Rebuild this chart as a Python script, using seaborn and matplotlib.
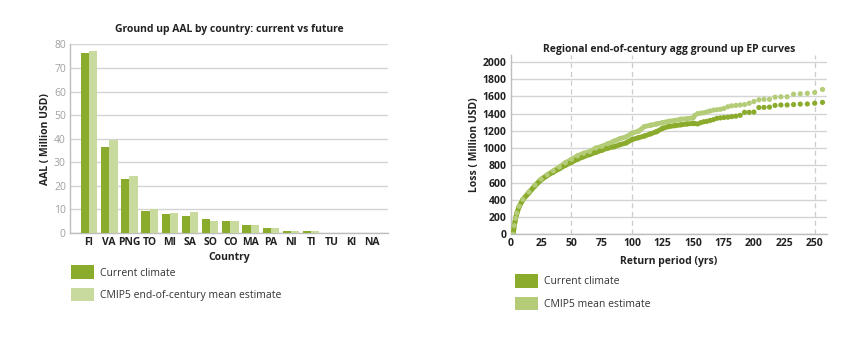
import matplotlib
matplotlib.use("Agg")
import matplotlib.pyplot as plt
from matplotlib.patches import Patch
import seaborn as sns
import pandas as pd

# ---- data: bar chart ----
countries = ["FI", "VA", "PNG", "TO", "MI", "SA", "SO", "CO", "MA", "PA", "NI", "TI", "TU", "KI", "NA"]
aal_current = [76.3, 36.5, 22.7, 9.5, 8.0, 7.1, 5.8, 5.0, 3.3, 2.2, 1.0, 1.0, 0.0, 0.0, 0.0]
aal_future = [77.0, 39.3, 24.0, 10.0, 8.4, 8.8, 5.3, 5.0, 3.2, 2.2, 0.9, 0.9, 0.0, 0.0, 0.0]
bar_series = ["Current climate", "CMIP5 end-of-century mean estimate"]

# ---- data: EP curves ----
rp_dense = [2, 3, 4, 5, 7, 10, 15, 20, 25, 30, 35, 40, 45, 50, 55, 60, 65, 70, 75, 80, 85,
            90, 95, 100, 105, 110, 115, 120, 125, 130, 135, 140, 145, 150]
loss_cur_dense = [0, 100, 180, 240, 320, 400, 480, 560, 630, 680, 720, 760, 800, 835, 870, 900,
                  925, 950, 975, 1000, 1015, 1040, 1060, 1100, 1120, 1140, 1165, 1190, 1230,
                  1250, 1260, 1270, 1280, 1285]
loss_fut_dense = [0, 100, 185, 245, 325, 405, 490, 570, 640, 690, 735, 780, 830, 870, 910, 940,
                  960, 1000, 1020, 1050, 1080, 1110, 1130, 1175, 1195, 1250, 1265, 1280, 1295,
                  1310, 1320, 1335, 1340, 1350]
rp_sparse = [151.5, 153.8, 156.3, 158.7, 161.3, 163.9, 166.7, 169.5, 172.4, 175.4, 178.6,
             181.8, 185.2, 188.7, 192.3, 196.1, 200.0, 204.1, 208.3, 212.8, 217.4, 222.2,
             227.3, 232.6, 238.1, 243.9, 250.0, 256.4]
loss_cur_sparse = [1285, 1280, 1295, 1305, 1310, 1320, 1330, 1345, 1350, 1355, 1358, 1365,
                   1370, 1380, 1415, 1415, 1418, 1470, 1472, 1475, 1495, 1500, 1500, 1505,
                   1510, 1512, 1520, 1530]
loss_fut_sparse = [1380, 1400, 1405, 1410, 1420, 1430, 1440, 1445, 1450, 1460, 1480, 1490,
                   1495, 1500, 1505, 1520, 1540, 1560, 1565, 1565, 1590, 1595, 1595, 1625,
                   1630, 1635, 1645, 1680]
ep_series = ["Current climate", "CMIP5 mean estimate"]
vlines = [50, 100, 250]

# ---- style ----
sns.set_theme(style="white")
plt.rcParams["font.family"] = ["Open Sans", "DejaVu Sans"]
dark = "#222222"
c_cur = "#8aab2b"
c_fut_bar = "#c8da9e"
c_fut_dot = "#b4cc78"

fig = plt.figure(figsize=(8.5, 3.43), dpi=100)
ax1 = fig.add_axes([0.0824, 0.3207, 0.374, 0.550])
ax2 = fig.add_axes([0.6008, 0.317, 0.372, 0.5227])

# ---- bar chart ----
df_bar = pd.DataFrame({
    "Country": countries * 2,
    "AAL": aal_current + aal_future,
    "Series": [bar_series[0]] * len(countries) + [bar_series[1]] * len(countries),
})
sns.barplot(data=df_bar, x="Country", y="AAL", hue="Series", hue_order=bar_series,
            palette=[c_cur, c_fut_bar], width=0.82, saturation=1, ax=ax1, legend=False,
            linewidth=0, edgecolor="none", zorder=3)
ax1.set_xlim(-0.94, 14.8)
ax1.set_ylim(0, 80)
ax1.set_yticks(range(0, 81, 10))
ax1.grid(axis="y", color="#d4d4d4", lw=1.0, zorder=0)
ax1.set_axisbelow(True)
for s in ["top", "right"]:
    ax1.spines[s].set_visible(False)
for s in ["left", "bottom"]:
    ax1.spines[s].set_color("#bdbdbd")
    ax1.spines[s].set_linewidth(1.0)
ax1.tick_params(axis="both", length=0, pad=3)
ax1.tick_params(axis="y", labelsize=7.5, labelcolor="#a0a0a0")
for lbl in ax1.get_xticklabels():
    lbl.set_fontsize(7.5)
    lbl.set_fontweight("bold")
    lbl.set_color(dark)
ax1.set_xlabel("Country", fontsize=7.5, fontweight="bold", color=dark, labelpad=3)
ax1.set_ylabel("AAL ( Million USD)", fontsize=7.5, fontweight="bold", color=dark, labelpad=2)
ax1.set_title("Ground up AAL by country: current vs future", fontsize=7.5,
              fontweight="bold", color=dark, pad=9)
h1 = [Patch(facecolor=c_cur, edgecolor="none"), Patch(facecolor=c_fut_bar, edgecolor="none")]
leg1 = ax1.legend(h1, bar_series, loc="upper left", bbox_to_anchor=(-0.01, -0.15),
                  frameon=False, fontsize=7.5, handlelength=2.2, handleheight=1.6,
                  labelspacing=0.85, handletextpad=0.6, borderaxespad=0)
for t in leg1.get_texts():
    t.set_color("#333333")

# ---- EP curves ----
df_dense = pd.DataFrame({
    "RP": rp_dense * 2,
    "Loss": loss_cur_dense + loss_fut_dense,
    "Series": [ep_series[0]] * len(rp_dense) + [ep_series[1]] * len(rp_dense),
})
df_all = pd.DataFrame({
    "RP": (rp_dense + rp_sparse) * 2,
    "Loss": loss_cur_dense + loss_cur_sparse + loss_fut_dense + loss_fut_sparse,
    "Series": [ep_series[0]] * (len(rp_dense) + len(rp_sparse))
              + [ep_series[1]] * (len(rp_dense) + len(rp_sparse)),
})
pal = {ep_series[0]: c_cur, ep_series[1]: c_fut_dot}
order = [ep_series[1], ep_series[0]]
sns.lineplot(data=df_dense, x="RP", y="Loss", hue="Series", hue_order=order, palette=pal,
             lw=3.5, ax=ax2, legend=False, zorder=3)
sns.scatterplot(data=df_all, x="RP", y="Loss", hue="Series", hue_order=order, palette=pal,
                s=14, linewidth=0, ax=ax2, legend=False, zorder=4)
for v in vlines:
    ax2.axvline(v, color="#cccccc", lw=0.9, ls=(0, (4, 3)), zorder=1)
ax2.set_xlim(0, 260)
ax2.set_ylim(0, 2080)
ax2.set_xticks(range(0, 251, 25))
ax2.set_yticks(range(0, 2001, 200))
ax2.grid(axis="y", color="#d4d4d4", lw=1.0, zorder=0)
ax2.set_axisbelow(True)
for s in ["top", "right"]:
    ax2.spines[s].set_visible(False)
for s in ["left", "bottom"]:
    ax2.spines[s].set_color("#bdbdbd")
    ax2.spines[s].set_linewidth(1.0)
ax2.tick_params(axis="both", length=0, pad=3, labelsize=7.5, labelcolor=dark)
for lbl in ax2.get_xticklabels() + ax2.get_yticklabels():
    lbl.set_fontweight("bold")
ax2.set_xlabel("Return period (yrs)", fontsize=7.5, fontweight="bold", color=dark, labelpad=5)
ax2.set_ylabel("Loss ( Million USD)", fontsize=7.5, fontweight="bold", color=dark, labelpad=2)
ax2.set_title("Regional end-of-century agg ground up EP curves", fontsize=7.5,
              fontweight="bold", color=dark, pad=2)
h2 = [Patch(facecolor=c_cur, edgecolor="none"), Patch(facecolor=c_fut_dot, edgecolor="none")]
leg2 = ax2.legend(h2, ep_series, loc="upper left", bbox_to_anchor=(0.0, -0.2),
                  frameon=False, fontsize=7.5, handlelength=2.2, handleheight=1.6,
                  labelspacing=0.85, handletextpad=0.6, borderaxespad=0)
for t in leg2.get_texts():
    t.set_color("#333333")

fig.savefig("out.png", dpi=100, facecolor="white")
